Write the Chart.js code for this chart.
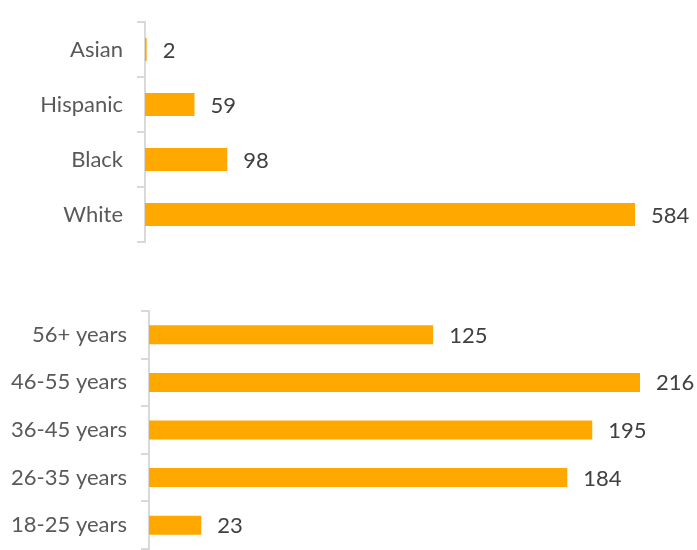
<!DOCTYPE html>
<html>
<head>
  <title>Demographics</title>
  <script src="https://cdn.jsdelivr.net/npm/chart.js"></script>
  <style>
    body { margin: 0; background: #fff; }
    .box { position: absolute; left: 0; width: 697px; height: 260px; }
  </style>
</head>
<body>
  <div class="box" style="top:0"><canvas id="raceChart" width="697" height="260"></canvas></div>
  <div class="box" style="top:290px"><canvas id="ageChart" width="697" height="260"></canvas></div>

  <script>
    const raceLabels = ['Asian', 'Hispanic', 'Black', 'White'];
    const raceValues = [2, 59, 98, 584];

    const ageLabels = ['56+ years', '46-55 years', '36-45 years', '26-35 years', '18-25 years'];
    const ageValues = [125, 216, 195, 184, 23];

    const barColor = '#ffa800';
    const fontFamily = 'Lato, "Open Sans", sans-serif';

    // writes the value just past the end of each bar
    const valueLabels = {
      id: 'valueLabels',
      afterDatasetsDraw(chart) {
        const ctx = chart.ctx;
        const meta = chart.getDatasetMeta(0);
        ctx.save();
        ctx.font = '22px ' + fontFamily;
        ctx.fillStyle = '#404040';
        ctx.textAlign = 'left';
        ctx.textBaseline = 'middle';
        meta.data.forEach((bar, i) => {
          ctx.fillText(chart.data.datasets[0].data[i], bar.x + 16, bar.y + 1);
        });
        ctx.restore();
      }
    };

    function makeChart(id, labels, values, axisWidth, padding, barPct) {
      return new Chart(document.getElementById(id), {
        type: 'bar',
        data: {
          labels: labels,
          datasets: [{
            data: values,
            backgroundColor: barColor,
            categoryPercentage: 1,
            barPercentage: barPct
          }]
        },
        options: {
          indexAxis: 'y',
          responsive: false,
          animation: false,
          layout: { padding: padding },
          plugins: {
            legend: { display: false },
            tooltip: { enabled: false }
          },
          scales: {
            x: {
              display: false,
              min: 0,
              max: Math.max(...values)
            },
            y: {
              z: 1, // axis line sits on top of the bars
              afterFit: s => {
                s.width = axisWidth;
                s.paddingTop = 0;
                s.paddingBottom = 0;
              },
              border: { display: true, color: '#d9d9d9', width: 2 },
              grid: {
                offset: true,
                drawOnChartArea: false,
                drawTicks: true,
                tickLength: 8,
                color: '#d9d9d9',
                lineWidth: 2
              },
              ticks: {
                color: '#595959',
                padding: 14,
                font: { family: fontFamily, size: 22 }
              }
            }
          }
        },
        plugins: [valueLabels]
      });
    }

    makeChart('raceChart', raceLabels, raceValues, 145, { top: 22, bottom: 18, right: 62 }, 0.42);
    makeChart('ageChart', ageLabels, ageValues, 149, { top: 21, bottom: 1, right: 57 }, 0.4);
  </script>
</body>
</html>
